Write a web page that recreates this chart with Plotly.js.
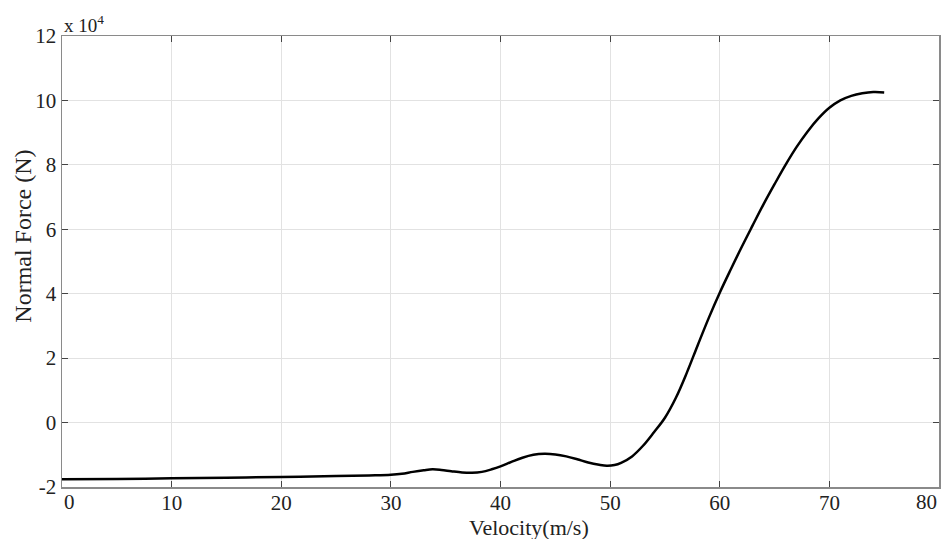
<!DOCTYPE html>
<html>
<head>
<meta charset="utf-8">
<script src="https://cdn.plot.ly/plotly-3.0.1.min.js"></script>
<style>html,body{margin:0;padding:0;background:#fff;}#chart{width:943px;height:539px;}</style>
</head>
<body>
<div id="chart"></div>
<script>
// Velocity (m/s)
var velocity = [0, 5, 10, 15, 20, 25, 28, 30, 31, 32, 33, 33.8, 34.6, 35.5, 36.5, 37.4, 38.3, 39.2, 40, 41, 42, 43, 44, 45, 46, 47, 48, 49, 49.7, 50.4, 51, 52, 53, 54, 55, 56, 57, 58, 59, 60, 61, 62, 63, 64, 65, 66, 67, 68, 69, 70, 71, 72, 73, 74, 75];
// Normal force (x 10^4 N)
var normalForce = [-1.76, -1.75, -1.73, -1.71, -1.69, -1.66, -1.64, -1.62, -1.59, -1.53, -1.48, -1.45, -1.47, -1.51, -1.55, -1.56, -1.53, -1.45, -1.36, -1.22, -1.09, -1.0, -0.97, -0.99, -1.05, -1.14, -1.24, -1.31, -1.34, -1.32, -1.25, -1.05, -0.72, -0.3, 0.15, 0.77, 1.55, 2.41, 3.25, 4.03, 4.75, 5.45, 6.12, 6.78, 7.4, 8.0, 8.55, 9.03, 9.44, 9.77, 10.0, 10.14, 10.22, 10.26, 10.25];
var xTicks = [0, 10, 20, 30, 40, 50, 60, 70, 80];
var yTicks = [-2, 0, 2, 4, 6, 8, 10, 12];
var xTitle = 'Velocity(m/s)';
var yTitle = 'Normal Force (N)';
var exponentLabel = 'x 10<sup>4</sup>';

var trace = {
  x: velocity,
  y: normalForce,
  type: 'scatter',
  mode: 'lines',
  line: {color: '#000', width: 2.5, shape: 'spline', smoothing: 1},
  hoverinfo: 'skip'
};

var fontFam = '"Liberation Serif", "Times New Roman", serif';
var tickFont = {family: fontFam, size: 21, color: '#222'};
var axisCommon = {
  showline: true,
  linecolor: '#8a8a8a',
  linewidth: 1.5,
  mirror: 'ticks',
  ticks: 'inside',
  ticklen: 6,
  tickcolor: '#444',
  tickwidth: 1,
  showgrid: true,
  gridcolor: '#e2e2e2',
  gridwidth: 1,
  zeroline: false,
  tickfont: tickFont
};

// inner tick labels; the two end labels are placed flush with the frame
var xTickText = xTicks.map(function (v, i) { return (i === 0 || i === xTicks.length - 1) ? '' : String(v); });

var annotations = [
  {text: exponentLabel, xref: 'paper', yref: 'paper', x: 0, y: 1, xanchor: 'left', yanchor: 'bottom',
   showarrow: false, font: {family: fontFam, size: 19, color: '#222'}, yshift: -2},
  {text: String(xTicks[0]), xref: 'x', yref: 'paper', x: xTicks[0], y: 0, xanchor: 'left', yanchor: 'top',
   showarrow: false, font: tickFont, yshift: -1},
  {text: String(xTicks[xTicks.length - 1]), xref: 'x', yref: 'paper', x: xTicks[xTicks.length - 1], y: 0, xanchor: 'right', yanchor: 'top',
   showarrow: false, font: tickFont, yshift: -1},
  {text: xTitle, xref: 'paper', yref: 'paper', x: 0.533, y: 0, xanchor: 'center', yanchor: 'top',
   showarrow: false, font: {family: fontFam, size: 22, color: '#222'}, yshift: -26},
  {text: yTitle, xref: 'paper', yref: 'paper', x: 0, y: 0.555, xanchor: 'center', yanchor: 'middle', textangle: -90,
   showarrow: false, font: {family: fontFam, size: 24, color: '#222'}, xshift: -39}
];

var layout = {
  width: 943,
  height: 539,
  paper_bgcolor: '#fff',
  plot_bgcolor: '#fff',
  showlegend: false,
  margin: {l: 62, r: 4, t: 36, b: 52},
  xaxis: Object.assign({}, axisCommon, {
    range: [0, 80],
    tickvals: xTicks,
    ticktext: xTickText,
    ticklabelstandoff: -4,
    automargin: false
  }),
  yaxis: Object.assign({}, axisCommon, {
    range: [-2, 12],
    tickvals: yTicks,
    ticktext: yTicks.map(String),
    automargin: false
  }),
  annotations: annotations
};

Plotly.newPlot('chart', [trace], layout, {staticPlot: true, displayModeBar: false});
</script>
</body>
</html>
